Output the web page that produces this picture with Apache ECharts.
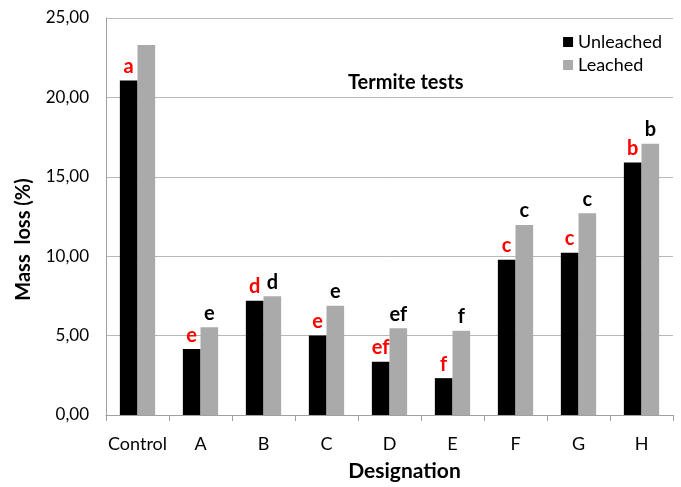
<!DOCTYPE html>
<html><head><meta charset="utf-8">
<script src="https://cdn.jsdelivr.net/npm/echarts@6/dist/echarts.min.js"></script>
<style>html,body{margin:0;padding:0;background:#fff}#c{width:681px;height:487px}</style>
</head><body><div id="c"></div>
<script>
const categories = ['Control','A','B','C','D','E','F','G','H'];
const unleached = [21.06, 4.15, 7.2, 5.0, 3.35, 2.32, 9.78, 10.22, 15.9];
const leached = [23.3, 5.52, 7.48, 6.88, 5.46, 5.3, 11.97, 12.7, 17.08];
const unleachedLetters = ['a','e','d','e','ef','f','c','c','b'];
const leachedLetters = ['','e','d','e','ef','f','c','c','b'];
const FONT = 'Lato';
const chart = echarts.init(document.getElementById('c'), null, {renderer:'canvas'});
chart.setOption({
  animation:false,
  textStyle:{fontFamily:FONT},
  title:{text:'Termite tests', left:343, top:68, textStyle:{fontFamily:FONT, fontSize:20, fontWeight:'bold', color:'#000'}},
  legend:{orient:'vertical', right:14, top:28, itemWidth:10, itemHeight:10, itemGap:5, icon:'rect',
    textStyle:{fontFamily:FONT, fontSize:18, color:'#000'},
    data:['Unleached','Leached']},
  grid:{left:106, right:8, top:18, bottom:69},
  xAxis:{type:'category', data:categories,
    name:'Designation', nameLocation:'middle', nameGap:46,
    nameTextStyle:{fontFamily:FONT, fontSize:21, fontWeight:'bold', color:'#000', padding:[0,0,0,30]},
    axisLine:{lineStyle:{color:'#a0a0a0'}},
    axisTick:{show:true, length:6, lineStyle:{color:'#a0a0a0'}},
    axisLabel:{interval:0, fontFamily:FONT, fontSize:18, color:'#000', margin:20}},
  yAxis:{type:'value', min:0, max:25, interval:5,
    name:'Mass  loss (%)', nameLocation:'middle', nameGap:72,
    nameTextStyle:{fontFamily:FONT, fontSize:20, fontWeight:'bold', color:'#000', padding:[0,46,0,0]},
    axisLine:{show:true, lineStyle:{color:'#a0a0a0'}},
    axisTick:{show:false},
    splitLine:{lineStyle:{color:'#b8b8b8'}},
    axisLabel:{fontFamily:FONT, fontSize:17, color:'#000', margin:17,
      formatter:v=>v.toFixed(2).replace('.',',')}},
  series:[
    {name:'Unleached', type:'bar', data:unleached, barGap:'0%', barCategoryGap:'44%',
     itemStyle:{color:'#000'},
     label:{show:true, position:'top', distance:4, formatter:p=>unleachedLetters[p.dataIndex],
       fontFamily:FONT, fontSize:20, fontWeight:'bold', color:'#ff0000'}},
    {name:'Leached', type:'bar', data:leached, barGap:'0%', barCategoryGap:'44%',
     itemStyle:{color:'#aaaaaa'},
     label:{show:true, position:'top', distance:4, formatter:p=>leachedLetters[p.dataIndex],
       fontFamily:FONT, fontSize:20, fontWeight:'bold', color:'#000'}}
  ]
});
</script></body></html>
